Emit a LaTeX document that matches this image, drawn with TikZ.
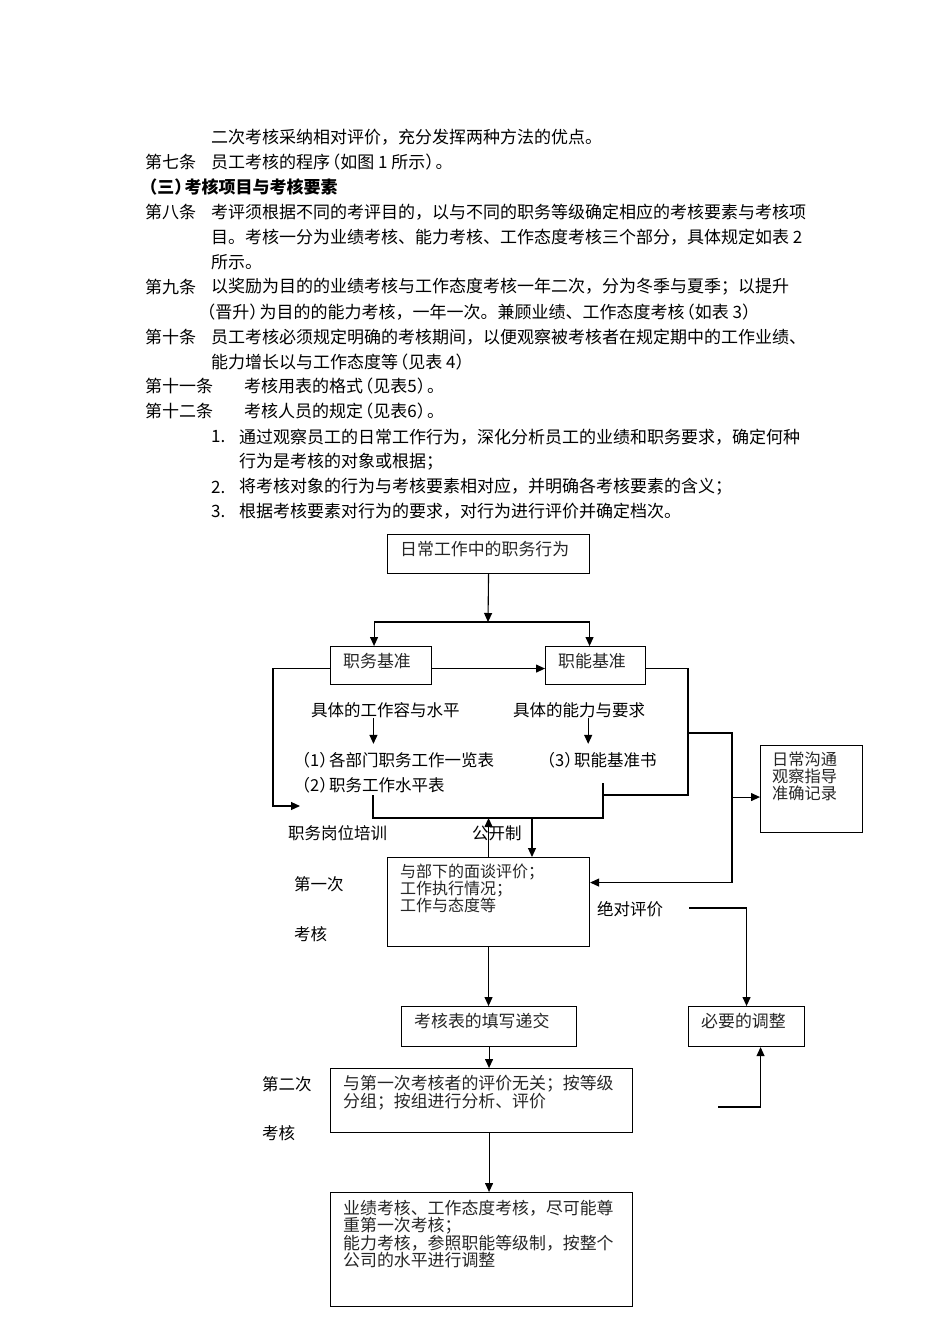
\documentclass[tikz,border=0pt]{standalone}
\usepackage{fontspec}
\setmainfont{Noto Sans CJK SC}
\usetikzlibrary{positioning,arrows.meta}
\newcommand\bodyfont{\fontsize{17}{20}\selectfont}
\newcommand\chartfont{\fontsize{16.5}{20}\selectfont}
\newcommand\boxfont{\fontsize{16.9}{17}\selectfont}
% narrow brackets as printed
\newcommand\lp{\makebox[0.6em][r]{（}}
\newcommand\rp{\makebox[0.6em][l]{）}}
\tikzset{
  body/.style={anchor=west, inner sep=0pt, font=\bodyfont},
  chart/.style={anchor=west, inner sep=0pt, font=\chartfont},
  flowbox/.style={draw, line width=1.1pt, inner sep=0pt, anchor=north west},
  boxtext/.style={anchor=north west, inner sep=0pt, align=left, font=\boxfont, text=black!85, xshift=13pt, yshift=-7pt},
  flowline/.style={line width=1.1pt},
  flowarrow/.style={line width=1.1pt, -{Triangle[length=9pt,width=8pt]}},
}
\begin{document}
\begin{tikzpicture}[x=1pt,y=-1pt]
  \fill[white] (0,0) rectangle (950,1344);
  \useasboundingbox (0,0) rectangle (950,1344);

  % text above the chart
  \node[body] (p1) at (211,137) {二次考核采纳相对评价，充分发挥两种方法的优点。};
  \node[body] (a7) at (145,162) {第七条};
  \node[body] (p2) at (211,162) {员工考核的程序\lp 如图 1 所示\rp 。};
  \node[body, font=\bodyfont\bfseries] (sec3) at (147,187) {\lp 三\rp 考核项目与考核要素};
  \node[body] (a8) at (145,212) {第八条};
  \node[body] (p3) at (211,212) {考评须根据不同的考评目的，以与不同的职务等级确定相应的考核要素与考核项};
  \node[body] (p4) at (211,237) {目。考核一分为业绩考核、能力考核、工作态度考核三个部分，具体规定如表 2};
  \node[body] (p5) at (211,262) {所示。};
  \node[body] (a9) at (145,287) {第九条};
  \node[body] (p6) at (211,287) {以奖励为目的的业绩考核与工作态度考核一年二次，分为冬季与夏季；以提升};
  \node[body] (p7) at (205,312) {\lp 晋升\rp 为目的的能力考核，一年一次。兼顾业绩、工作态度考核\lp 如表 3\rp};
  \node[body] (a10) at (145,337) {第十条};
  \node[body] (p8) at (211,337) {员工考核必须规定明确的考核期间，以便观察被考核者在规定期中的工作业绩、};
  \node[body] (p9) at (211,362) {能力增长以与工作态度等\lp 见表 4\rp};
  \node[body] (a11) at (145,386) {第十一条};
  \node[body] (p10) at (244,386) {考核用表的格式\lp 见表5\rp 。};
  \node[body] (a12) at (145,411) {第十二条};
  \node[body] (p11) at (244,411) {考核人员的规定\lp 见表6\rp 。};
  \node[body] (n1) at (211,437) {1.};
  \node[body] (p12) at (239,437) {通过观察员工的日常工作行为，深化分析员工的业绩和职务要求，确定何种};
  \node[body] (p13) at (239,462) {行为是考核的对象或根据；};
  \node[body] (n2) at (211,487) {2.};
  \node[body] (p14) at (239,487) {将考核对象的行为与考核要素相对应，并明确各考核要素的含义；};
  \node[body] (n3) at (211,511) {3.};
  \node[body] (p15) at (239,511) {根据考核要素对行为的要求，对行为进行评价并确定档次。};

  % boxes
  \node[flowbox, minimum width=202pt, minimum height=39pt, label={[boxtext]north west:{日常工作中的职务行为}}] (daily) at (387,534) {};
  \node[flowbox, minimum width=101pt, minimum height=38pt, label={[boxtext]north west:{职务基准}}] (duty) at (330,646) {};
  \node[flowbox, minimum width=100pt, minimum height=38pt, label={[boxtext]north west:{职能基准}}] (skill) at (545,646) {};
  \node[flowbox, minimum width=102pt, minimum height=87pt, label={[boxtext, xshift=-1pt, font=\fontsize{16.2}{17}\selectfont]north west:{日常沟通\\观察指导\\准确记录}}] (note) at (760,745) {};
  \node[flowbox, minimum width=202pt, minimum height=89pt, label={[boxtext, font=\fontsize{16}{17}\selectfont]north west:{与部下的面谈评价；\\工作执行情况；\\工作与态度等}}] (first) at (387,857) {};
  \node[flowbox, minimum width=175pt, minimum height=40pt, label={[boxtext]north west:{考核表的填写递交}}] (form) at (401,1006) {};
  \node[flowbox, minimum width=116pt, minimum height=40pt, label={[boxtext]north west:{必要的调整}}] (adjust) at (688,1006) {};
  \node[flowbox, minimum width=302pt, minimum height=64pt, label={[boxtext]north west:{与第一次考核者的评价无关；按等级\\分组；按组进行分析、评价}}] (second) at (330,1068) {};
  \node[flowbox, minimum width=302pt, minimum height=114pt, label={[boxtext, yshift=-1pt]north west:{业绩考核、工作态度考核，尽可能尊\\重第一次考核；\\能力考核，参照职能等级制，按整个\\公司的水平进行调整}}] (final) at (330,1192) {};

  % free labels
  \node[chart] (dutydet) at (311,710) {具体的工作容与水平};
  \node[chart] (skilldet) at (513,710) {具体的能力与要求};
  \node[chart] (list1) at (300,760) {\lp 1\rp 各部门职务工作一览表};
  \node[chart] (list3) at (545,760) {\lp 3\rp 职能基准书};
  \node[chart] (list2) at (300,785) {\lp 2\rp 职务工作水平表};
  \node[chart] (train) at (288,833) {职务岗位培训};
  \node[chart] (public) at (472,833) {公开制};
  \node[chart] (firstA) at (294,884) {第一次};
  \node[chart] (firstB) at (294,934) {考核};
  \node[chart] (absol) at (597,909) {绝对评价};
  \node[chart] (secondA) at (262,1084) {第二次};
  \node[chart] (secondB) at (262,1133) {考核};

  % connectors
  \coordinate (split) at (488,622);
  \draw[flowarrow] (daily.south) -- (split);
  \draw[flowarrow] (split) -| ([xshift=-7pt]duty.north);
  \draw[flowarrow] (split) -| ([xshift=-6pt]skill.north);
  \draw[flowarrow] ([yshift=-3pt]duty.east) -- ([yshift=-3pt]skill.west);

  \coordinate (trainin) at (300,806);
  \draw[flowarrow] ([yshift=-3pt]duty.west) -| ([xshift=-27pt]trainin) -- (trainin);

  \draw[flowarrow] ([xshift=-12pt]dutydet.south) -- ++(0,26);
  \draw[flowarrow] ([xshift=9pt]skilldet.south) -- ++(0,26);

  \coordinate (brTL) at (373,795);
  \coordinate (brL) at (373,818);
  \coordinate (brR) at (603,818);
  \coordinate (brTR) at (603,783);
  \draw[flowline] (brTL) -- (brL) -- (brR) -- (brTR);
  \coordinate (loopR) at (688,795);
  \draw[flowline] ([yshift=-3pt]skill.east) -| (loopR) -- (loopR -| brR);

  \coordinate (tap) at (688,733);
  \coordinate (vtop) at (732,733);
  \draw[flowarrow] (tap) -- (vtop) |- ([yshift=19.5pt]first.east);
  \coordinate (noteIn) at ([yshift=-8pt]note.west);
  \draw[flowarrow] (vtop |- noteIn) -- (noteIn);

  \draw[flowarrow] (first.north) -- (first.north |- brL);
  \coordinate (pubdown) at (532,818);
  \draw[flowarrow] (pubdown) -- (pubdown |- first.north);

  \coordinate (absout) at (689,908);
  \draw[flowarrow] (absout) -| (adjust.north);

  \draw[flowarrow] (first.south) -- (first.south |- form.north);
  \draw[flowarrow] (form.south) -- (form.south |- second.north);
  \draw[flowarrow] (second.south -| form.south) -- (final.north -| form.south);

  \coordinate (adjback) at (718,1107);
  \draw[flowarrow] (adjback) -| ([xshift=14pt]adjust.south);
\end{tikzpicture}
\end{document}
